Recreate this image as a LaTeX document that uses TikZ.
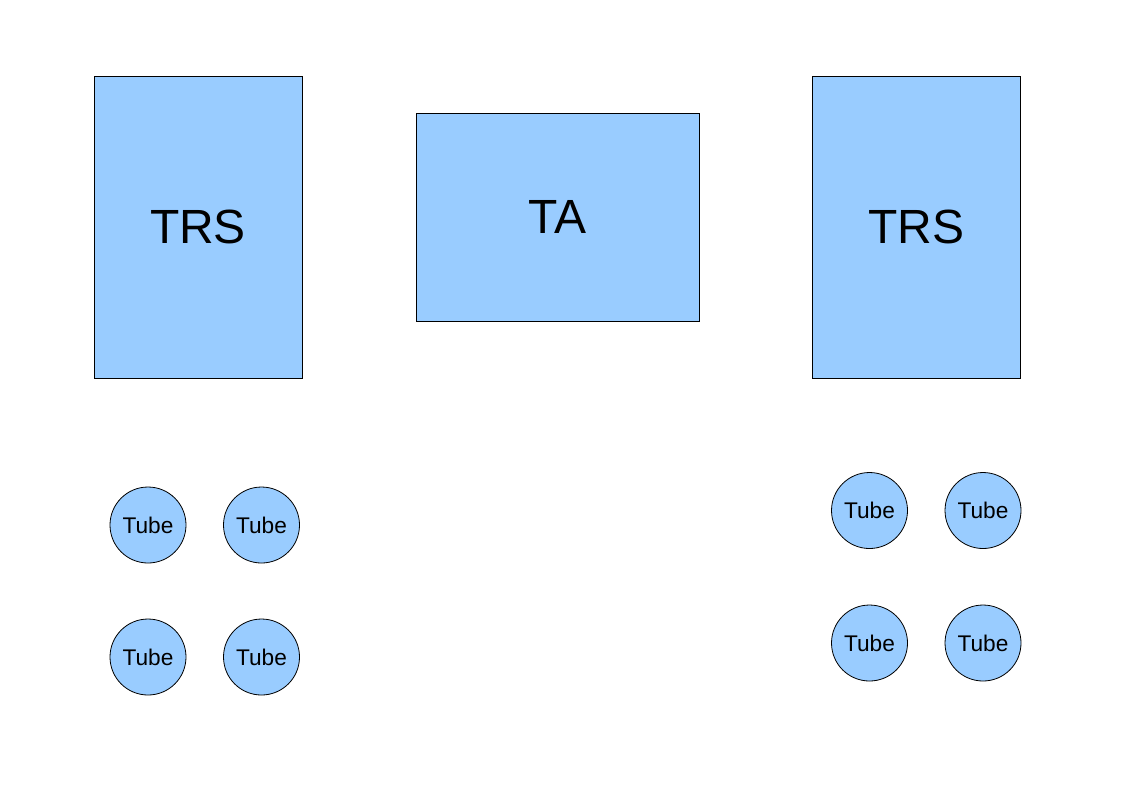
\documentclass[tikz,border=0pt]{standalone}
\usepackage{fontspec}
\setmainfont{Liberation Sans}
\usetikzlibrary{positioning}
\definecolor{boxblue}{HTML}{99CCFF}
\tikzset{
    part color/.style={fill=boxblue,draw=black},
    part style/.style={part color,line width=.6pt,inner sep=0pt},
    rack/.style={part style,rectangle,minimum width=156pt,minimum height=226.5pt,font=\fontsize{36}{40}\selectfont},
    analyser/.style={part style,rectangle,minimum width=212.25pt,minimum height=156pt,font=\fontsize{36}{40}\selectfont},
    tube/.style={part style,circle,minimum size=57pt,font=\fontsize{17}{20}\selectfont},
}

\begin{document}
\begin{tikzpicture}[x=.75pt,y=-.75pt]
    \useasboundingbox (0,0) rectangle (1123,794);

    \node[rack] (TRSleft) at (198,227) {TRS};
    \node[analyser] (TA) at (557.5,217) {TA};
    \node[rack] (TRSright) at (916.5,227) {TRS};

    % left tubes
    \node[tube] (L1) at (148,525) {Tube};
    \node[tube] (L2) at (261.5,525) {Tube};
    \node[tube] (L3) at (148,657) {Tube};
    \node[tube] (L4) at (261.5,657) {Tube};

    % right tubes
    \node[tube] (R1) at (869.5,510.5) {Tube};
    \node[tube] (R2) at (983,510.5) {Tube};
    \node[tube] (R3) at (869.5,643) {Tube};
    \node[tube] (R4) at (983,643) {Tube};
\end{tikzpicture}
\end{document}
